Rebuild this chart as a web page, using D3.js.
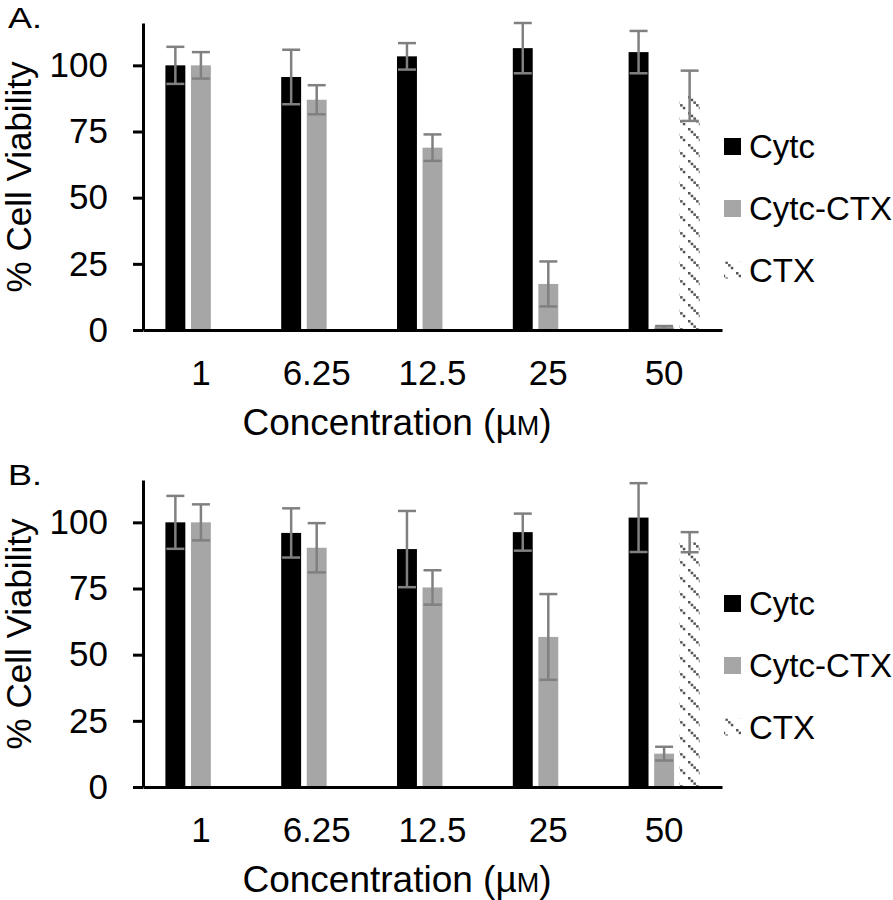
<!DOCTYPE html>
<html>
<head>
<meta charset="utf-8">
<script src="https://cdn.jsdelivr.net/npm/d3@7"></script>
<style>
  html, body { margin: 0; padding: 0; background: #fff; }
  svg { display: block; font-family: "Liberation Sans", Arial, sans-serif; }
</style>
</head>
<body>
<svg id="chart" width="893" height="900"></svg>
<script>
// ---------- Data ----------
const concentrations = ["1", "6.25", "12.5", "25", "50"];
const seriesNames = ["Cytc", "Cytc-CTX", "CTX"];
const seriesColors = ["#000000", "#a6a6a6", "url(#ctxPat)"];

// Panel A
const cytcA      = [100, 95.6, 103.4, 106.5, 105];
const cytcAErr   = [7, 10.3, 5, 9.5, 8];
const conjA      = [100, 87, 68.9, 17.4, 1];
const conjAErr   = [5, 5.5, 5, 8.5, 0.5];
const ctxA       = [null, null, null, null, 88.5];
const ctxAErr    = [null, null, null, null, 9.5];

// Panel B
const cytcB      = [100, 96, 89.9, 96.3, 101.8];
const cytcBErr   = [10, 9.3, 14.4, 7, 13];
const conjB      = [100, 90.4, 75.4, 56.7, 12.6];
const conjBErr   = [6.8, 9.3, 6.5, 16.2, 2.6];
const ctxB       = [null, null, null, null, 92.5];
const ctxBErr    = [null, null, null, null, 3.8];

const yTicks = [0, 25, 50, 75, 100];
const yMax = 116;

// ---------- Drawing ----------
const svg = d3.select("#chart");
const defs = svg.append("defs");
const pat = defs.append("pattern")
  .attr("id", "ctxPat").attr("patternUnits", "userSpaceOnUse")
  .attr("width", 16).attr("height", 16);
pat.append("rect").attr("width", 16).attr("height", 16).attr("fill", "#fff");
[0, 2.7, 5.4, 8.1, 10.8].forEach(p => {
  pat.append("rect").attr("x", p).attr("y", p).attr("width", 2.5).attr("height", 2.5).attr("fill", "#555");
});

const left = 143, right = 722;
const x0 = d3.scaleBand().domain(concentrations).range([left, right])
  .paddingInner(0.387).paddingOuter(0.1935);
const x1 = d3.scaleBand().domain(seriesNames).range([0, x0.bandwidth()])
  .paddingInner(0.22).paddingOuter(0);

function drawPanel(offY, label, vals, errs) {
  const g = svg.append("g").attr("transform", `translate(0,${offY})`);
  const y = d3.scaleLinear().domain([0, yMax]).range([330, 23]);

  // bars
  seriesNames.forEach((s, si) => {
    const data = concentrations.map((c, i) => ({c, v: vals[si][i], e: errs[si][i]}))
      .filter(d => d.v !== null);
    g.append("g").selectAll("rect").data(data).join("rect")
      .attr("x", d => x0(d.c) + x1(s))
      .attr("y", d => y(d.v))
      .attr("width", x1.bandwidth())
      .attr("height", d => y(0) - y(d.v))
      .attr("fill", seriesColors[si]);
  });

  // error bars
  seriesNames.forEach((s, si) => {
    const data = concentrations.map((c, i) => ({c, v: vals[si][i], e: errs[si][i]}))
      .filter(d => d.v !== null);
    const eg = g.append("g").attr("stroke", "#808080").attr("stroke-width", 2.5).attr("fill", "none");
    data.forEach(d => {
      const cx = x0(d.c) + x1(s) + x1.bandwidth() / 2;
      const t = y(d.v + d.e), b = y(d.v - d.e);
      eg.append("line").attr("x1", cx).attr("x2", cx).attr("y1", t).attr("y2", b);
      eg.append("line").attr("x1", cx - 9).attr("x2", cx + 9).attr("y1", t).attr("y2", t);
      eg.append("line").attr("x1", cx - 9).attr("x2", cx + 9).attr("y1", b).attr("y2", b);
    });
  });

  // y axis
  const ya = g.append("g").attr("transform", `translate(${left},0)`)
    .call(d3.axisLeft(y).tickValues(yTicks).tickSize(10).tickSizeOuter(0).tickPadding(25));
  ya.select(".domain").attr("stroke", "#000").attr("stroke-width", 3);
  ya.selectAll(".tick line").attr("stroke", "#000").attr("stroke-width", 3);
  ya.selectAll(".tick text").attr("font-size", 35).attr("fill", "#000")
    .attr("font-family", "Liberation Sans, Arial, sans-serif");

  // x axis
  const xa = g.append("g").attr("transform", `translate(0,${y(0)})`)
    .call(d3.axisBottom(x0).tickSize(0).tickSizeOuter(0).tickPadding(30));
  xa.select(".domain").attr("stroke", "#000").attr("stroke-width", 3);
  xa.selectAll(".tick text").attr("font-size", 35).attr("fill", "#000")
    .attr("font-family", "Liberation Sans, Arial, sans-serif");

  // axis titles
  const xt = g.append("text").attr("x", 397).attr("y", 435).attr("text-anchor", "middle")
    .attr("font-size", 37).attr("fill", "#000").text("Concentration (µ");
  xt.append("tspan").attr("font-size", 27).text("M");
  xt.append("tspan").text(")");

  g.append("text").attr("transform", "translate(31,177) rotate(-90)")
    .attr("text-anchor", "middle").attr("font-size", 35).attr("fill", "#000")
    .text("% Cell Viability");

  // panel label
  g.append("text").attr("x", 8).attr("y", 28).attr("font-size", 29)
    .attr("textLength", 34).attr("lengthAdjust", "spacingAndGlyphs")
    .attr("fill", "#000").text(label);

  // legend
  const ly = [146.5, 208.5, 270];
  seriesNames.forEach((s, si) => {
    g.append("rect").attr("x", 724).attr("y", ly[si] - 8.5).attr("width", 17).attr("height", 17)
      .attr("fill", seriesColors[si]);
    g.append("text").attr("x", 749).attr("y", ly[si] + 11.5).attr("font-size", 33)
      .attr("fill", "#000").text(s);
  });
}

drawPanel(0, "A.", [cytcA, conjA, ctxA], [cytcAErr, conjAErr, ctxAErr]);
drawPanel(457, "B.", [cytcB, conjB, ctxB], [cytcBErr, conjBErr, ctxBErr]);
</script>
</body>
</html>
